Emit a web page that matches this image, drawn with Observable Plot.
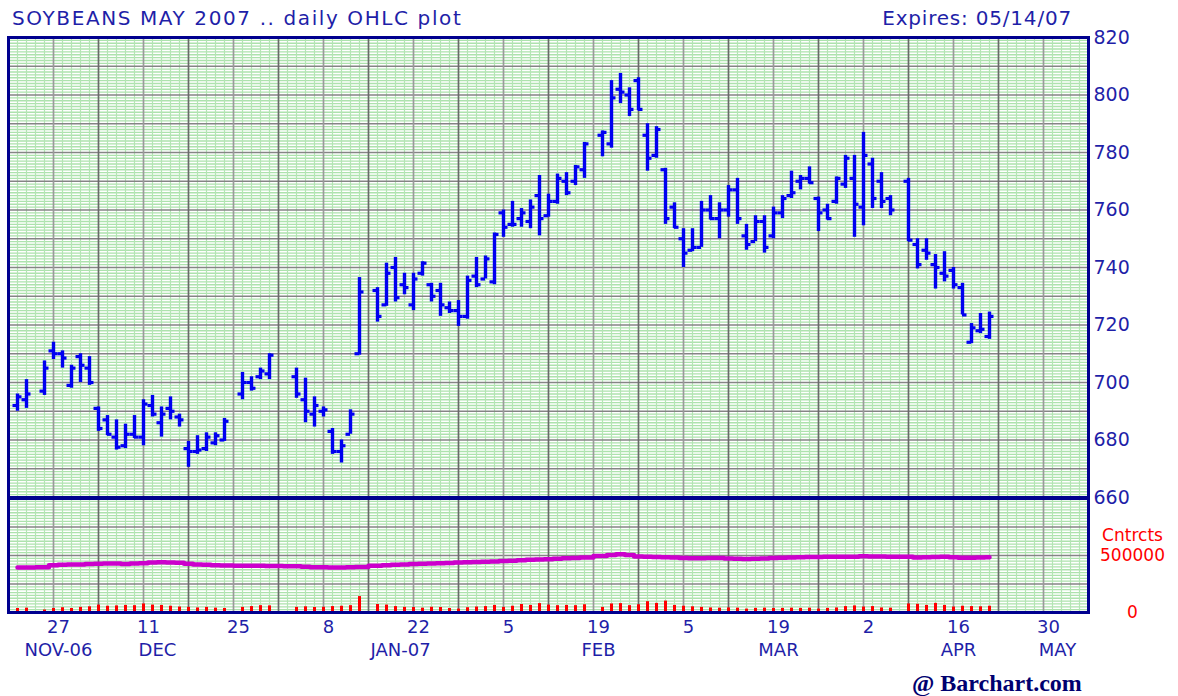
<!DOCTYPE html>
<html>
<head>
<meta charset="utf-8">
<script src="https://cdn.jsdelivr.net/npm/d3@7"></script>
<script src="https://cdn.jsdelivr.net/npm/@observablehq/plot@0.6"></script>
<style>
  html, body { margin: 0; padding: 0; background: #fff; }
  #wrap { position: relative; width: 1178px; height: 696px; overflow: hidden; font-family: "DejaVu Sans", sans-serif; }
  #wrap svg { display: block; overflow: visible; }
  #title { position: absolute; left: 12px; top: 8px; font-size: 20px; line-height: 20px; color: #1f1fa8; letter-spacing: 1.6px; white-space: nowrap; z-index: 2; }
  #expires { position: absolute; right: 106px; top: 8px; font-size: 20px; line-height: 20px; color: #1f1fa8; letter-spacing: 0.8px; white-space: nowrap; z-index: 2; }
  #credit { position: absolute; left: 912px; top: 671px; font-family: "Liberation Serif", serif; font-weight: bold; font-size: 24px; line-height: 24px; color: #000070; white-space: nowrap; }
  #topPanel { position: absolute; left: 0; top: 0; }
  #bottomPanel { position: absolute; left: 0; top: 497px; }
</style>
</head>
<body>
<div id="wrap">
  <div id="topPanel"></div>
  <div id="bottomPanel"></div>
  <div id="title">SOYBEANS MAY 2007 .. daily OHLC plot</div>
  <div id="expires">Expires: 05/14/07</div>
  <div id="credit">@ Barchart.com</div>
</div>
<script>
// ---------- data ----------
const dates = [
  "2006-11-21","2006-11-22","2006-11-24","2006-11-27","2006-11-28","2006-11-29","2006-11-30",
  "2006-12-01","2006-12-04","2006-12-05","2006-12-06","2006-12-07","2006-12-08","2006-12-11","2006-12-12","2006-12-13","2006-12-14","2006-12-15","2006-12-18","2006-12-19","2006-12-20","2006-12-21","2006-12-22","2006-12-26","2006-12-27","2006-12-28","2006-12-29",
  "2007-01-03","2007-01-04","2007-01-05","2007-01-08","2007-01-09","2007-01-10","2007-01-11","2007-01-12","2007-01-16","2007-01-17","2007-01-18","2007-01-19","2007-01-22","2007-01-23","2007-01-24","2007-01-25","2007-01-26","2007-01-29","2007-01-30","2007-01-31",
  "2007-02-01","2007-02-02","2007-02-05","2007-02-06","2007-02-07","2007-02-08","2007-02-09","2007-02-12","2007-02-13","2007-02-14","2007-02-15","2007-02-16","2007-02-20","2007-02-21","2007-02-22","2007-02-23","2007-02-26","2007-02-27","2007-02-28",
  "2007-03-01","2007-03-02","2007-03-05","2007-03-06","2007-03-07","2007-03-08","2007-03-09","2007-03-12","2007-03-13","2007-03-14","2007-03-15","2007-03-16","2007-03-19","2007-03-20","2007-03-21","2007-03-22","2007-03-23","2007-03-26","2007-03-27","2007-03-28","2007-03-29","2007-03-30",
  "2007-04-02","2007-04-03","2007-04-04","2007-04-05","2007-04-09","2007-04-10","2007-04-11","2007-04-12","2007-04-13","2007-04-16","2007-04-17","2007-04-18","2007-04-19","2007-04-20"
];
const opens = [
  692, 694, 697, 711, 710, 699, 709,
  705, 691, 687, 681, 678, 682, 681, 692, 686, 691, 688, 677, 676, 677, 679, 680, 696, 700, 702, 703,
  702, 694, 689, 690, 683, 676, 682, 710, 732, 727, 740, 734, 727, 738, 734, 732, 726, 725, 723, 737,
  736, 735, 759, 755, 757, 756, 765, 758, 763, 770, 770, 774, 786, 783, 802, 800, 805, 786, 779,
  774, 761, 750, 746, 747, 760, 757, 760, 767, 751, 749, 756, 751, 759, 765, 770, 771, 764, 760, 763, 769, 771,
  761, 776, 770, 764, 770, 748, 746, 741, 738, 739, 733, 714, 718, 716
];
const highs = [
  696, 701, 707.5, 714, 711, 706, 710,
  709, 691.5, 688.5, 687, 685.5, 688.5, 694, 695.5, 691.5, 695, 689, 679.5, 681.5, 682.5, 682.5, 687.5, 703.5, 702, 705, 710,
  705, 701.5, 695, 691.5, 684, 680, 690.5, 736.5, 733, 741.5, 743.5, 738, 738, 742, 734.5, 734.5, 728, 728.5, 737, 743.5,
  744, 752, 760, 763, 760.5, 763.5, 772, 765.5, 772.5, 773, 775.5, 783.5, 787.5, 805, 807.5, 802.5, 806, 790, 789,
  774.5, 762.5, 753.5, 753.5, 763, 765, 762.5, 768.5, 771, 755, 758, 758, 761, 765, 773.5, 772, 775, 764.5, 762, 771.5, 779, 779,
  787, 778, 773, 765, 771, 750, 750, 744.5, 745.5, 740, 734.5, 720.5, 724, 724.5
];
const lows = [
  690, 691, 695.5, 708, 705, 698, 700,
  699, 683, 681.5, 676.5, 677, 680.5, 678, 688, 681, 687, 684.5, 670.5, 675, 676, 678, 679.5, 694, 697, 701, 701,
  694.5, 686, 684.5, 688, 675, 672, 682, 709.5, 721, 726.5, 728, 730.5, 725, 737, 728, 723, 724, 719.5, 722, 733,
  736, 734, 750.5, 754, 754, 753.5, 751, 757.5, 762, 765, 768.5, 771, 778.5, 781.5, 797, 792.5, 794.5, 773.5, 778,
  755, 753.5, 740, 745.5, 747, 756.5, 750, 757.5, 755, 746, 749, 745, 750, 757, 764, 767, 769, 752.5, 756.5, 762, 767.5, 750.5,
  754.5, 760.5, 760.5, 758, 749, 739.5, 742.5, 732.5, 735, 732.5, 723.5, 713.5, 717, 715
];
const closes = [
  695, 696, 705, 710, 708.5, 705, 706,
  700, 684, 682, 677.5, 682, 681, 692.5, 689, 689, 690, 687, 676, 676.5, 681, 681.5, 686.5, 700, 698, 704, 709.5,
  696, 690, 692, 690.5, 676, 678, 689, 731.5, 723, 738, 729.5, 733, 736, 741.5, 730, 727, 725, 723, 735.5, 734,
  743, 751.5, 754, 755, 759, 761, 757, 763, 771, 766, 775, 783, 787, 799, 801, 795, 795, 778, 788,
  757, 754, 745, 747, 760, 757, 760, 767, 757, 748, 756, 747, 759, 764, 766, 771, 769.5, 759, 757, 771, 778, 762,
  779, 764, 763, 760, 749.5, 741, 745, 740, 737, 734, 723.5, 719, 718.5, 723
];
// volume (contracts)
const volumes = [
  35000, 38000, 22000, 35000, 42000, 35000, 45000,
  50000, 65000, 55000, 58000, 62000, 60000, 75000, 65000, 62000, 55000, 48000, 45000, 40000, 45000, 38000, 35000, 45000, 52000, 60000, 58000,
  45000, 50000, 44000, 46000, 52000, 55000, 60000, 140000, 70000, 65000, 52000, 45000, 44000, 38000, 46000, 44000, 35000, 30000, 42000, 48000,
  52000, 62000, 45000, 55000, 70000, 62000, 78000, 65000, 60000, 62000, 60000, 68000, 45000, 75000, 78000, 60000, 68000, 95000, 80000,
  100000, 62000, 55000, 50000, 45000, 40000, 38000, 40000, 38000, 30000, 36000, 38000, 35000, 36000, 38000, 36000, 38000, 30000, 36000, 40000, 52000, 58000,
  48000, 52000, 40000, 38000, 75000, 72000, 62000, 80000, 62000, 48000, 55000, 52000, 50000, 55000
];
// open interest (contracts)
const openInterest = [
  395000, 395000, 398000, 415000, 418000, 420000, 422000,
  425000, 428000, 430000, 430000, 425000, 430000, 432000, 438000, 440000, 438000, 436000, 428000, 420000, 418000, 415000, 412000, 410000, 410000, 410000, 408000,
  405000, 402000, 398000, 396000, 395000, 395000, 397000, 400000, 410000, 415000, 418000, 420000, 425000, 428000, 430000, 433000, 435000, 438000, 440000, 442000,
  445000, 448000, 452000, 455000, 458000, 462000, 465000, 468000, 472000, 475000, 478000, 482000, 495000, 505000, 510000, 505000, 492000, 488000, 486000,
  484000, 482000, 478000, 476000, 476000, 478000, 478000, 474000, 472000, 470000, 472000, 474000, 478000, 480000, 482000, 484000, 486000, 486000, 488000, 488000, 488000, 488000,
  494000, 492000, 492000, 490000, 488000, 482000, 484000, 486000, 488000, 484000, 480000, 480000, 482000, 484000
];
// axis ticks / labels
const priceTicks = [660, 680, 700, 720, 740, 760, 780, 800, 820];
const dayTickDates = ["2006-11-27","2006-12-11","2006-12-25","2007-01-08","2007-01-22","2007-02-05","2007-02-19","2007-03-05","2007-03-19","2007-04-02","2007-04-16","2007-04-30"];
const dayTickLabels = ["27","11","25","8","22","5","19","5","19","2","16","30"];
const monthLabelDates = ["2006-11-27","2006-12-12","2007-01-18","2007-02-19","2007-03-19","2007-04-16","2007-05-01"];
const monthLabels = ["NOV-06","DEC","JAN-07","FEB","MAR","APR","MAY"];
const volumeTicks = [0, 500000];
const volumeTickLabels = ["0", "500000"];
const volumeTitle = "Cntrcts";

// ---------- helpers ----------
// trading-day (weekday) index counted from Monday 2006-11-20
const t0 = Date.UTC(2006, 10, 20);
const wk = s => {
  const n = Math.round((Date.parse(s + "T00:00:00Z") - t0) / 864e5);
  return Math.floor(n / 7) * 5 + (n % 7);
};
const xDomain = [0, wk("2007-05-07")];
const rows = dates.map((d, i) => ({
  x: wk(d), o: opens[i], h: highs[i], l: lows[i], c: closes[i], v: volumes[i], oi: openInterest[i]
}));
const mondays = d3.utcMonday.range(new Date("2006-11-21T00:00:00Z"), new Date("2007-05-07T00:00:00Z"))
  .map(d => wk(d3.utcFormat("%Y-%m-%d")(d)));
const evenWeeks = mondays.filter(k => (k / 5) % 2 === 0);
const oddWeeks = mondays.filter(k => (k / 5) % 2 === 1);
const dayGrid = d3.range(xDomain[0] + 1, xDomain[1]).filter(k => k % 5 !== 0);

const BLUE_TXT = "#1f1fa8";
const NAVY = "#00008f";
const BAR = "#0000f0";
const GREEN_H = "#ade2ad";
const GREEN_V = "#b4e5b4";
const font = { fontFamily: "DejaVu Sans, sans-serif", background: "none", overflow: "visible" };

// ---------- price panel ----------
const pricePlot = Plot.plot({
  width: 1178, height: 497,
  marginLeft: 8, marginRight: 90, marginTop: 37, marginBottom: 0,
  x: { domain: xDomain, axis: null },
  y: { domain: [660, 820], axis: null },
  style: font,
  marks: [
    Plot.ruleY(d3.range(661, 820).filter(v => v % 10 !== 0), { stroke: GREEN_H, strokeWidth: 1.3 }),
    Plot.ruleX(dayGrid, { stroke: GREEN_V, strokeWidth: 1.2 }),
    Plot.ruleY(d3.range(670, 820, 10), { stroke: "#858585", strokeWidth: 1.7 }),
    Plot.ruleX(oddWeeks, { stroke: "#9a9a9a", strokeWidth: 1.7 }),
    Plot.ruleX(evenWeeks, { stroke: "#6a6a6a", strokeWidth: 1.7 }),
    // OHLC
    Plot.ruleX(rows, { x: "x", y1: "l", y2: "h", stroke: BAR, strokeWidth: 3.4 }),
    Plot.ruleY(rows, { y: "o", x1: d => d.x - 0.5, x2: "x", stroke: BAR, strokeWidth: 3.2 }),
    Plot.ruleY(rows, { y: "c", x1: "x", x2: d => d.x + 0.5, stroke: BAR, strokeWidth: 3.2 }),
    Plot.frame({ stroke: NAVY, strokeWidth: 3 }),
    Plot.text(priceTicks, { y: d => d, frameAnchor: "right", dx: 5, textAnchor: "start", text: d => String(d), fill: BLUE_TXT, fontSize: 19 })
  ]
});
document.getElementById("topPanel").append(pricePlot);

// ---------- volume / open interest panel ----------
const volumePlot = Plot.plot({
  width: 1178, height: 199,
  marginLeft: 8, marginRight: 90, marginTop: 1, marginBottom: 84,
  x: { domain: xDomain, axis: null },
  y: { domain: [0, 1000000], axis: null },
  style: font,
  marks: [
    Plot.ruleY(d3.range(25000, 1000000, 25000).filter(v => v % 250000 !== 0), { stroke: GREEN_H, strokeWidth: 1.3 }),
    Plot.ruleX(dayGrid, { stroke: GREEN_V, strokeWidth: 1.2 }),
    Plot.ruleY([250000, 500000, 750000], { stroke: "#858585", strokeWidth: 1.7 }),
    Plot.ruleX(oddWeeks, { stroke: "#9a9a9a", strokeWidth: 1.7 }),
    Plot.ruleX(evenWeeks, { stroke: "#6a6a6a", strokeWidth: 1.7 }),
    Plot.ruleX(rows, { x: "x", y1: 0, y2: "v", stroke: "#ff0000", strokeWidth: 3 }),
    Plot.line(rows, { x: "x", y: "oi", stroke: "#cc00cc", strokeWidth: 4.5, curve: "step" }),
    Plot.frame({ stroke: NAVY, strokeWidth: 3 }),
    Plot.text(volumeTicks, { y: d => d, frameAnchor: "right", dx: 44, dy: 0, textAnchor: "middle", text: (d, i) => volumeTickLabels[i], fill: "#ff0000", fontSize: 17 }),
    Plot.text([volumeTitle], { frameAnchor: "top-right", dx: 44, dy: 30, textAnchor: "middle", fill: "#ff0000", fontSize: 17 }),
    Plot.text(dayTickDates, { x: d => wk(d), frameAnchor: "bottom", dy: 20, dx: 5, text: (d, i) => dayTickLabels[i], fill: BLUE_TXT, fontSize: 18 }),
    Plot.text(monthLabelDates, { x: d => wk(d), frameAnchor: "bottom", dy: 43, dx: 5, text: (d, i) => monthLabels[i], fill: BLUE_TXT, fontSize: 18 })
  ]
});
document.getElementById("bottomPanel").append(volumePlot);
</script>
</body>
</html>
